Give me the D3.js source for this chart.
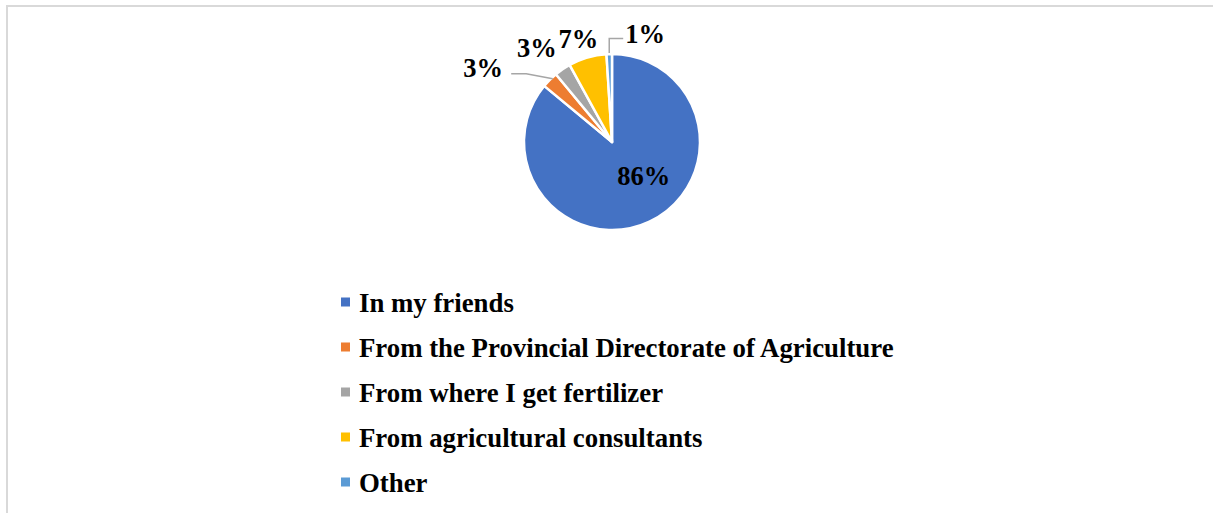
<!DOCTYPE html>
<html>
<head>
<meta charset="utf-8">
<script src="https://cdn.jsdelivr.net/npm/d3@7"></script>
<style>
  html, body { margin: 0; padding: 0; background: #fff; }
  svg { display: block; }
</style>
</head>
<body>
<svg id="chart" width="1213" height="513"></svg>
<script>
// Where respondents get their information
const categories = [
  "In my friends",
  "From the Provincial Directorate of Agriculture",
  "From where I get fertilizer",
  "From agricultural consultants",
  "Other"
];
const shares = [86, 3, 3, 7, 1];
const sliceColors = ["#4472C4", "#ED7D31", "#A5A5A5", "#FFC000", "#5B9BD5"];

// Label placement (polar: angle in degrees clockwise from 12 o'clock, distance from centre)
const labelAngles = [137, 300, 321.5, 342, 17];
const labelRadii = [0.53, 1.69, 1.37, 1.24, 1.29];

const W = 1213, H = 513;
const svg = d3.select("#chart");
const font = "'Liberation Serif', 'Times New Roman', serif";

// chart frame
svg.append("path")
  .attr("d", `M7,${H} L7,6 L${W},6`)
  .attr("fill", "none")
  .attr("stroke", "#D9D9D9")
  .attr("stroke-width", 2);

const cx = 612, cy = 142, R = 88;
const g = svg.append("g").attr("transform", `translate(${cx},${cy})`);

const pie = d3.pie().sort(null).value(d => d)(shares);
const arc = d3.arc().innerRadius(0).outerRadius(R);

g.selectAll("path.slice")
  .data(pie)
  .join("path")
  .attr("class", "slice")
  .attr("d", arc)
  .attr("fill", (d, i) => sliceColors[i])
  .attr("stroke", "#fff")
  .attr("stroke-width", 2.5)
  .attr("stroke-linejoin", "round");

const polar = (deg, r) => {
  const a = deg * Math.PI / 180;
  return [r * Math.sin(a), -r * Math.cos(a)];
};

// leader lines for the two labels that sit away from their slices
const leaderColor = "#A6A6A6";
{
  const mid = (pie[1].startAngle + pie[1].endAngle) / 2;
  const edge = [R * Math.sin(mid), -R * Math.cos(mid)];
  const [lx, ly] = polar(labelAngles[1], labelRadii[1] * R);
  const startX = lx + 28, y0 = ly + 6;
  g.append("path")
    .attr("d", `M${startX},${y0} L${startX + 15},${y0} L${edge[0] + 3},${edge[1] - 1}`)
    .attr("fill", "none").attr("stroke", leaderColor).attr("stroke-width", 1.5);
}
{
  const mid = (pie[4].startAngle + pie[4].endAngle) / 2;
  const edge = [R * Math.sin(mid), -R * Math.cos(mid)];
  const [lx, ly] = polar(labelAngles[4], labelRadii[4] * R);
  const startX = lx - 22, y0 = ly + 5;
  g.append("path")
    .attr("d", `M${startX},${y0} L${edge[0]},${y0} L${edge[0]},${edge[1] - 1}`)
    .attr("fill", "none").attr("stroke", leaderColor).attr("stroke-width", 1.5);
}

g.selectAll("text.pct")
  .data(pie)
  .join("text")
  .attr("class", "pct")
  .attr("x", (d, i) => polar(labelAngles[i], labelRadii[i] * R)[0])
  .attr("y", (d, i) => polar(labelAngles[i], labelRadii[i] * R)[1])
  .attr("text-anchor", "middle")
  .attr("dy", "0.35em")
  .attr("font-family", font)
  .attr("font-weight", "bold")
  .attr("font-size", 26.5)
  .attr("fill", "#000")
  .text(d => d.data + "%");

// legend
const legendY = d3.scalePoint().domain(categories).range([302, 482]);
const lg = svg.append("g");
const rows = lg.selectAll("g").data(categories).join("g")
  .attr("transform", d => `translate(341,${legendY(d)})`);
rows.append("rect")
  .attr("x", 0).attr("y", -4.5).attr("width", 9).attr("height", 9)
  .attr("fill", (d, i) => sliceColors[i]);
rows.append("text")
  .attr("x", 18).attr("y", 9.5)
  .attr("font-family", font)
  .attr("font-weight", "bold")
  .attr("font-size", 26.8)
  .attr("fill", "#000")
  .text(d => d);
</script>
</body>
</html>
